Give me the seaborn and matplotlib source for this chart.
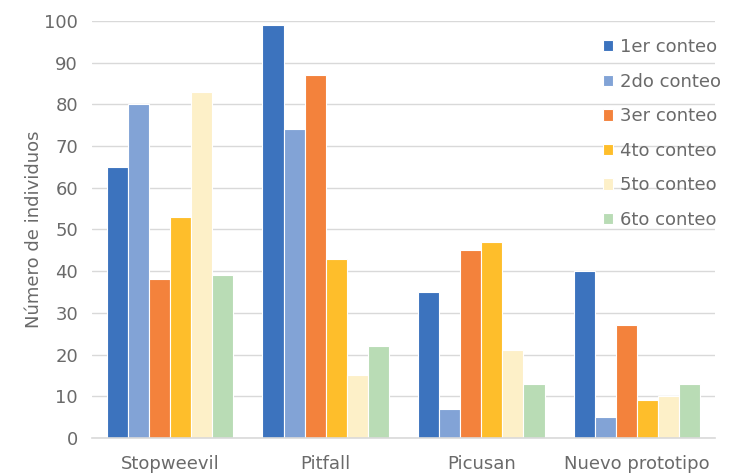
import pandas as pd
import seaborn as sns
import matplotlib.pyplot as plt

# Datos
trampas = ['Stopweevil', 'Pitfall', 'Picusan', 'Nuevo prototipo']
conteos = ['1er conteo', '2do conteo', '3er conteo', '4to conteo', '5to conteo', '6to conteo']
conteo1 = [65, 99, 35, 40]
conteo2 = [80, 74, 7, 5]
conteo3 = [38, 87, 45, 27]
conteo4 = [53, 43, 47, 9]
conteo5 = [83, 15, 21, 10]
conteo6 = [39, 22, 13, 13]
colores = ['#3C73BE', '#82A3D6', '#F3823C', '#FEBE2B', '#FDF0C8', '#B9DCB5']

valores = [conteo1, conteo2, conteo3, conteo4, conteo5, conteo6]
filas = []
for c, vals in zip(conteos, valores):
    for t, v in zip(trampas, vals):
        filas.append({'Trampa': t, 'Conteo': c, 'Individuos': v})
df = pd.DataFrame(filas)

sns.set_style('white')
plt.rcParams['font.family'] = ['DejaVu Sans']
gris = '#6A6A6A'

fig = plt.figure(figsize=(7.35, 4.74), dpi=100)
ax = fig.add_axes([0.125, 0.076, 0.848, 0.880])

sns.barplot(data=df, x='Trampa', y='Individuos', hue='Conteo', order=trampas,
            hue_order=conteos, palette=colores, width=0.81, edgecolor='white',
            linewidth=0.8, saturation=1, ax=ax)

ax.set_ylim(0, 100)
ax.set_yticks(range(0, 101, 10))
ax.set_xlim(-0.5, 3.5)
ax.yaxis.grid(True, color='#D9D9D9', linewidth=1)
ax.set_axisbelow(True)
for s in ['top', 'right', 'left']:
    ax.spines[s].set_visible(False)
ax.spines['bottom'].set_color('#D9D9D9')
ax.spines['bottom'].set_linewidth(1.2)
ax.tick_params(axis='both', length=0, labelsize=13, labelcolor=gris)
ax.tick_params(axis='x', pad=12)
ax.tick_params(axis='y', pad=10)
ax.set_xlabel('')
ax.set_ylabel('Número de individuos', fontsize=13, color=gris, labelpad=1)

leg = ax.legend(loc='upper left', bbox_to_anchor=(0.81, 0.935), bbox_transform=fig.transFigure,
                frameon=False, fontsize=13, handlelength=0.6, handleheight=0.6,
                handletextpad=0.35, labelspacing=0.92, borderaxespad=0)
for txt in leg.get_texts():
    txt.set_color(gris)

fig.savefig('out.png', dpi=100)
